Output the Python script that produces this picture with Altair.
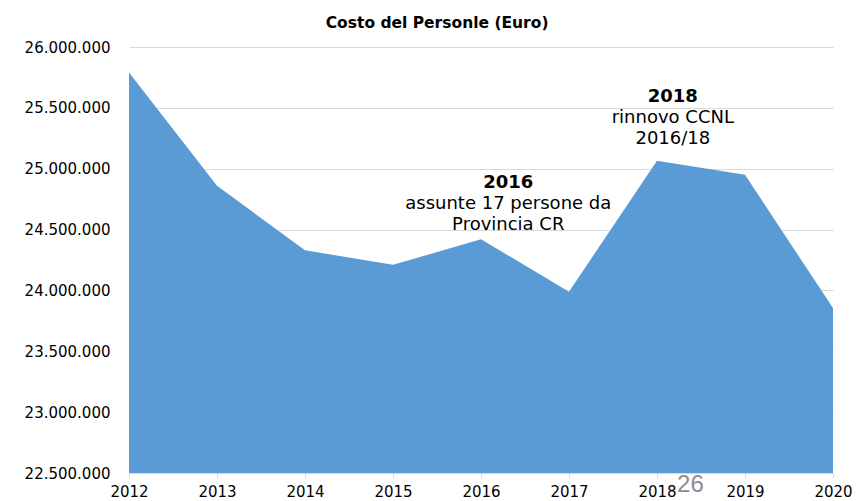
import altair as alt
import pandas as pd

years = [2012, 2013, 2014, 2015, 2016, 2017, 2018, 2019, 2020]
costs = [25790000, 24860000, 24330000, 24210000, 24420000, 23990000, 25065000, 24950000, 23855000]

bold_year = [2016.31, 2018.18]
bold_value = [24884000, 25591000]
bold_text = ["2016", "2018"]

norm_year = [2016.31, 2016.31, 2018.18, 2018.18]
norm_value = [24712000, 24540000, 25419000, 25246000]
norm_text = ["assunte 17 persone da", "Provincia CR", "rinnovo CCNL", "2016/18"]

page_year = [2018.38]
page_value = [22400000]
page_text = ["26"]

df = pd.DataFrame({"anno": years, "costo": costs})
ann_b = pd.DataFrame({"anno": bold_year, "costo": bold_value, "testo": bold_text})
ann_n = pd.DataFrame({"anno": norm_year, "costo": norm_value, "testo": norm_text})
pg = pd.DataFrame({"anno": page_year, "costo": page_value, "testo": page_text})

FONT = "DejaVu Sans"
label_expr = "replace(replace(replace(format(datum.value, ',d'), ',', '.'), ',', '.'), ',', '.')"

x_scale = alt.Scale(domain=[2012, 2020], nice=False, zero=False)
y_scale = alt.Scale(domain=[22500000, 26000000], nice=False, zero=False)

area = alt.Chart(df).mark_area(color="#5B9BD5", opacity=1, clip=True).encode(
    x=alt.X("anno:Q", scale=x_scale,
            axis=alt.Axis(title=None, values=years, format="d", grid=False,
                          labelFont=FONT, labelFontSize=15, labelColor="#000000",
                          labelPadding=6, tickColor="#D9D9D9", tickSize=5,
                          domainColor="#D9D9D9", labelFlush=False)),
    y=alt.Y("costo:Q", scale=y_scale,
            axis=alt.Axis(title=None, values=list(range(22500000, 26000001, 500000)),
                          labelExpr=label_expr, labelFont=FONT, labelFontSize=15,
                          labelColor="#000000", labelPadding=19, ticks=False,
                          domain=False, grid=True, gridColor="#D9D9D9", gridWidth=1)),
)

def text_layer(data, weight, font, size, color):
    return alt.Chart(data).mark_text(font=font, fontSize=size, fontWeight=weight,
                                     color=color, align="center", baseline="middle").encode(
        x=alt.X("anno:Q", scale=x_scale),
        y=alt.Y("costo:Q", scale=y_scale),
        text="testo:N",
    )

tb = text_layer(ann_b, "bold", FONT, 18, "#000000")
tn = text_layer(ann_n, "normal", FONT, 18, "#000000")
tp = text_layer(pg, "normal", "Liberation Sans", 24, "#8C8C8C")

chart = alt.layer(area, tb, tn, tp).properties(
    width=704, height=426,
    autosize=alt.AutoSizeParams(type="none"),
    padding={"left": 121, "top": 39, "right": 19, "bottom": 28},
    background="white",
    title=alt.TitleParams("Costo del Personle (Euro)", font=FONT, fontSize=15.5,
                          fontWeight="bold", color="#000000", anchor="middle",
                          frame="bounds", offset=9, dx=-1),
).configure_view(stroke=None)

chart.save("out.html", embed_options={"renderer": "svg", "actions": False})
